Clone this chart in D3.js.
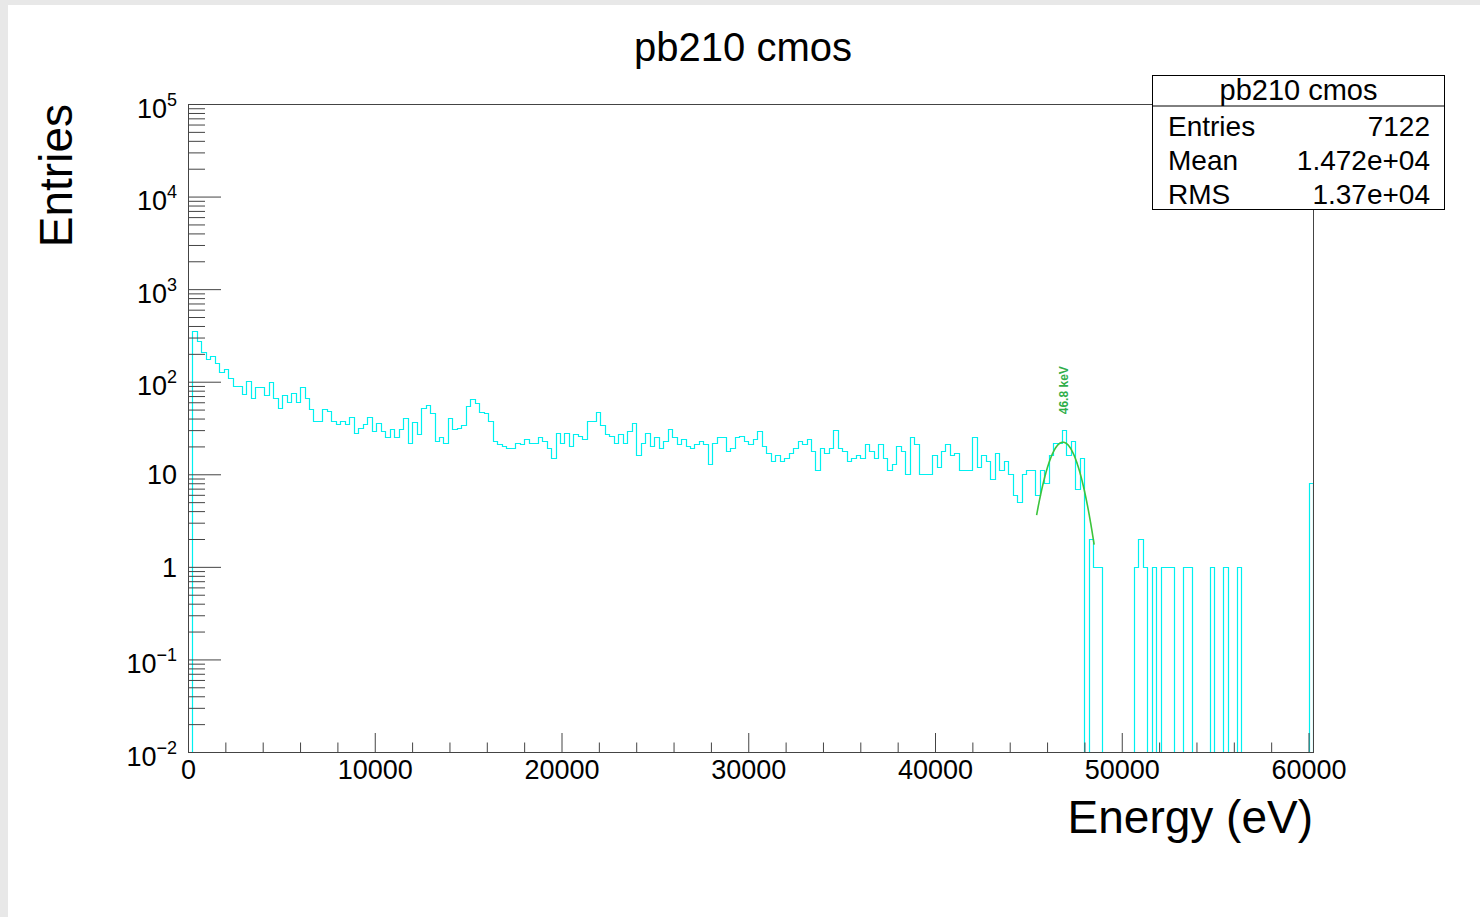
<!DOCTYPE html>
<html><head><meta charset="utf-8">
<script src="https://cdn.jsdelivr.net/npm/d3@7"></script>
<style>
html,body{margin:0;padding:0;background:#e8e8e8;}
svg{display:block;font-family:"Liberation Sans",Arial,Helvetica,sans-serif;}
</style></head><body>
<svg id="c" width="1480" height="917"></svg>
<script>
// ---------------- data ----------------
const chartTitle = "pb210 cmos";
const xTitle = "Energy (eV)";
const yTitle = "Entries";
const binWidth = 240; // eV per bin, 251 bins from 0
const counts = [
  0,356,277,211,176,190,159,128,137,111, 91,91,74,101,67,87,87,71,99,67,
  52,72,61,75,61,87,67,51,38,38, 51,48,38,35,38,35,42,28,32,35,
  42,29,36,29,25,31,25,31,41,22, 37,27,52,56,46,23,25,22,41,31,
  32,34,54,65,59,47,46,38,23,21, 20,19,19,22,21,24,22,22,25,23,
  19,15,28,22,28,20,27,26,24,38, 38,47,34,27,26,22,27,22,29,36,
  16,22,28,20,25,19,23,31,25,21, 24,20,19,21,23,21,13,22,25,25,
  18,19,25,26,23,21,24,29,20,17, 14,16,14,15,17,19,23,21,24,18,
  11,19,17,19,30,19,18,14,15,16, 15,21,18,15,21,15,11,13,20,18,
  10,25,21,10,10,10,16,12,18,21, 16,17,11,11,11,25,12,16,14,9,
  17,11,14,10,6,5,10,11,11,6, 11,8,16,22,22,30,16,23,7,15,
  0,2,1,1,0,0,0,0,0,0, 0,1,2,1,0,1,0,1,1,1,
  0,0,1,1,0,0,0,0,1,0, 0,1,0,0,1,0,0,0,0,0,
  0,0,0,0,0,0,0,0,0,0, 8
];
const xTickValues = [0,10000,20000,30000,40000,50000,60000];
const xTickLabels = ["0","10000","20000","30000","40000","50000","60000"];
const yTickValues = [1e-2,1e-1,1,10,1e2,1e3,1e4,1e5];
const yTickBase   = ["10","10","1","10","10","10","10","10"];
const yTickExp    = ["\u22122","\u22121","","","2","3","4","5"];
const statsTitle  = "pb210 cmos";
const statsNames  = ["Entries","Mean","RMS"];
const statsValues = ["7122","1.472e+04","1.37e+04"];
// Gaussian fit parameters (the drawn fit function)
const fitAmp = 22.2, fitMean = 46850, fitSigma = 740;
const fitRange = [45440, 48520];
const peakLabel = "46.8 keV";

// ---------------- layout ----------------
const svg = d3.select("#c");
const L = 188, R = 1313, T = 104, B = 752;
svg.append("rect").attr("x",8).attr("y",5).attr("width",1472).attr("height",912).attr("fill","#fff");

const x = d3.scaleLinear().domain([0, binWidth*counts.length]).range([L, R]);
const y = d3.scaleLog().domain([1e-2, 1e5]).range([B, T]);
const yv = v => v > 0 ? y(Math.max(v, 1e-2)) : B;
const px = v => Math.round(v) + 0.5;

// clip
svg.append("clipPath").attr("id","fr").append("rect")
  .attr("x",L).attr("y",T).attr("width",R-L+1).attr("height",B-T+1);

// histogram
const pts = [[x(0), B]];
counts.forEach((c,i) => pts.push([x(i*binWidth), yv(c)]));
pts.push([x(counts.length*binWidth), yv(counts[counts.length-1])]);
pts.push([x(counts.length*binWidth), B]);
const line = d3.line().x(p => px(p[0])).y(p => px(p[1])).curve(d3.curveStepAfter);
svg.append("path").attr("d", line(pts)).attr("fill","none")
  .attr("stroke","#00f0f0").attr("stroke-width",1.2).attr("clip-path","url(#fr)");

// fit curve
const fx = d3.range(fitRange[0], fitRange[1]+1, 20);
const fitPts = fx.map(e => [x(e), y(fitAmp*Math.exp(-0.5*Math.pow((e-fitMean)/fitSigma,2)))]);
svg.append("path").attr("d", d3.line().curve(d3.curveLinear)(fitPts))
  .attr("fill","none").attr("stroke","#3cc43c").attr("stroke-width",1.6);

// peak label
svg.append("text").attr("transform",`translate(${x(fitMean)+5},${y(fitAmp)-28}) rotate(-90)`)
  .attr("font-size",12).attr("font-weight","bold").attr("fill","#2fae4a")
  .attr("text-anchor","start").text(peakLabel);

// axes
const axCol = "#444";
const yMinor = [];
for (let e=-2;e<5;e++) for (let m=2;m<=9;m++) yMinor.push(m*Math.pow(10,e));
svg.append("g").attr("transform",`translate(${L},0)`)
  .call(d3.axisLeft(y).tickValues(yMinor).tickSize(-17).tickSizeOuter(0).tickFormat(()=>""));
const gy = svg.append("g").attr("transform",`translate(${L},0)`)
  .call(d3.axisLeft(y).tickValues(yTickValues).tickSize(-33).tickSizeOuter(0).tickPadding(11).tickFormat(()=>""));
gy.selectAll(".tick text").each(function(d,i){
  const t = d3.select(this).attr("font-size",27).attr("fill","#000")
    .attr("font-family",null).attr("dy",null)
    .attr("y", yTickExp[i] ? 13 : 9.5);
  t.append("tspan").text(yTickBase[i]);
  if (yTickExp[i]) t.append("tspan").attr("font-size",18).attr("dy",-12).text(yTickExp[i]);
});
const xMinor = d3.range(0, 60001, 2000).filter(v => v % 10000 !== 0);
svg.append("g").attr("transform",`translate(0,${B})`)
  .call(d3.axisBottom(x).tickValues(xMinor).tickSize(-9.5).tickSizeOuter(0).tickFormat(()=>""));
const gx = svg.append("g").attr("transform",`translate(0,${B})`)
  .call(d3.axisBottom(x).tickValues(xTickValues).tickSize(-19).tickSizeOuter(0).tickPadding(8)
    .tickFormat((d,i)=>xTickLabels[i]));
gx.selectAll(".tick text").attr("font-size",27).attr("fill","#000").attr("font-family",null);
svg.selectAll(".domain").remove();
svg.selectAll(".tick line").attr("stroke",axCol);

// frame
svg.append("rect").attr("x",L+0.5).attr("y",T+0.5).attr("width",R-L).attr("height",B-T)
  .attr("fill","none").attr("stroke",axCol).attr("stroke-width",1);

// titles
svg.append("text").attr("x",743).attr("y",61).attr("text-anchor","middle")
  .attr("font-size",40).text(chartTitle);
svg.append("text").attr("x",R).attr("y",833).attr("text-anchor","end")
  .attr("font-size",46).text(xTitle);
svg.append("text").attr("transform",`translate(72,${T}) rotate(-90)`).attr("text-anchor","end")
  .attr("font-size",46).text(yTitle);

// stats box
const sb = {x:1152.5, y:75.5, w:292, h:134, head:30.5};
svg.append("rect").attr("x",sb.x).attr("y",sb.y).attr("width",sb.w).attr("height",sb.h)
  .attr("fill","#fff").attr("stroke","#000").attr("stroke-width",1);
svg.append("line").attr("x1",sb.x).attr("x2",sb.x+sb.w).attr("y1",sb.y+sb.head).attr("y2",sb.y+sb.head)
  .attr("stroke","#000");
svg.append("text").attr("x",sb.x+sb.w/2).attr("y",100).attr("text-anchor","middle")
  .attr("font-size",29).text(statsTitle);
statsNames.forEach((n,i)=>{
  const by = 136 + i*34;
  svg.append("text").attr("x",1168).attr("y",by).attr("font-size",28).text(n);
  svg.append("text").attr("x",1430).attr("y",by).attr("text-anchor","end").attr("font-size",28).text(statsValues[i]);
});
</script>
</body></html>
